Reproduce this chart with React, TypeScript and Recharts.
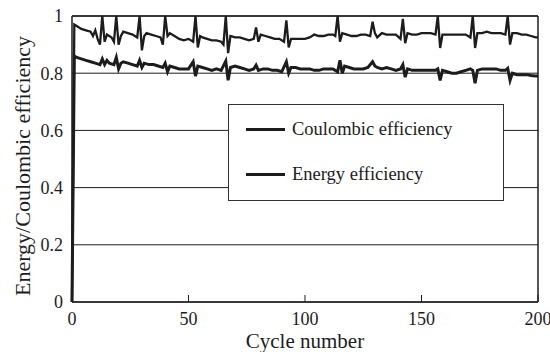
import React from 'react';
import { LineChart, Line, XAxis, YAxis, CartesianGrid, Legend, ReferenceLine } from 'recharts';

const ceCycles = [0, 1, 2, 4, 6, 8, 9, 10, 11, 12, 13, 14, 15, 16, 17, 18, 19, 20, 21, 22, 24, 26, 28, 29, 30, 31, 32, 34, 36, 38, 39, 40, 41, 42, 44, 46, 48, 50, 52, 53, 54, 55, 56, 58, 60, 62, 64, 65, 66, 67, 68, 70, 72, 74, 76, 78, 79, 80, 81, 83, 85, 87, 89, 91, 92, 93, 94, 96, 98, 100, 102, 104, 106, 108, 110, 112, 113, 114, 115, 116, 118, 120, 122, 124, 126, 128, 129, 130, 131, 133, 135, 137, 139, 141, 142, 143, 144, 146, 148, 150, 152, 154, 156, 157, 158, 159, 161, 163, 165, 167, 169, 171, 172, 173, 174, 176, 178, 180, 182, 184, 186, 187, 188, 189, 191, 193, 195, 197, 199, 200];
const ceValues = [0, 0.97, 0.965, 0.955, 0.95, 0.945, 0.93, 0.95, 0.92, 0.9, 1.0, 0.91, 0.935, 0.93, 0.925, 0.91, 1.0, 0.9, 0.93, 0.945, 0.94, 0.935, 0.925, 1.0, 0.88, 0.93, 0.94, 0.935, 0.93, 0.925, 0.9, 1.0, 0.93, 0.94, 0.93, 0.92, 0.915, 0.92, 0.91, 1.0, 0.89, 0.93, 0.925, 0.92, 0.915, 0.915, 0.91, 0.9, 1.0, 0.87, 0.93, 0.925, 0.925, 0.92, 0.915, 0.92, 0.96, 0.91, 0.935, 0.93, 0.925, 0.92, 0.92, 0.91, 0.985, 0.89, 0.92, 0.92, 0.92, 0.92, 0.925, 0.935, 0.93, 0.93, 0.935, 0.935, 0.93, 1.0, 0.91, 0.94, 0.935, 0.93, 0.93, 0.935, 0.935, 0.93, 0.98, 0.94, 0.925, 0.94, 0.935, 0.935, 0.935, 0.92, 0.99, 0.905, 0.94, 0.935, 0.935, 0.94, 0.94, 0.94, 0.935, 1.0, 0.888, 0.935, 0.935, 0.935, 0.935, 0.935, 0.935, 0.925, 1.0, 0.888, 0.94, 0.94, 0.945, 0.94, 0.94, 0.94, 0.935, 1.0, 0.9, 0.94, 0.94, 0.935, 0.935, 0.93, 0.925, 0.925];

const eeCycles = [0, 1, 2, 4, 6, 8, 10, 12, 13, 14, 15, 16, 18, 19, 20, 21, 22, 24, 26, 28, 29, 30, 31, 33, 35, 37, 39, 40, 41, 42, 44, 46, 48, 50, 52, 53, 54, 56, 58, 60, 62, 64, 66, 67, 68, 70, 72, 74, 76, 78, 79, 80, 82, 84, 86, 88, 90, 92, 93, 94, 96, 98, 100, 102, 104, 106, 108, 110, 112, 114, 115, 116, 117, 119, 121, 123, 125, 127, 129, 130, 131, 133, 135, 137, 139, 141, 142, 143, 144, 146, 148, 150, 152, 154, 156, 157, 158, 159, 161, 163, 165, 167, 169, 171, 172, 173, 174, 176, 178, 180, 182, 184, 186, 187, 188, 189, 191, 193, 195, 197, 199, 200];
const eeValues = [0, 0.86, 0.855, 0.85, 0.845, 0.84, 0.835, 0.83, 0.85, 0.83, 0.845, 0.835, 0.83, 0.855, 0.815, 0.835, 0.84, 0.835, 0.83, 0.825, 0.845, 0.82, 0.835, 0.83, 0.83, 0.825, 0.82, 0.835, 0.805, 0.825, 0.82, 0.815, 0.815, 0.815, 0.84, 0.79, 0.825, 0.82, 0.815, 0.81, 0.815, 0.81, 0.842, 0.775, 0.82, 0.825, 0.82, 0.815, 0.81, 0.815, 0.828, 0.81, 0.815, 0.815, 0.81, 0.81, 0.805, 0.84, 0.8, 0.82, 0.82, 0.815, 0.815, 0.815, 0.81, 0.81, 0.815, 0.815, 0.815, 0.805, 0.845, 0.8, 0.825, 0.82, 0.815, 0.815, 0.815, 0.82, 0.84, 0.825, 0.82, 0.815, 0.82, 0.815, 0.81, 0.815, 0.83, 0.786, 0.815, 0.81, 0.81, 0.81, 0.81, 0.81, 0.81, 0.815, 0.775, 0.81, 0.805, 0.8, 0.8, 0.805, 0.81, 0.815, 0.81, 0.765, 0.81, 0.815, 0.815, 0.815, 0.815, 0.81, 0.81, 0.817, 0.775, 0.8, 0.795, 0.795, 0.795, 0.792, 0.79, 0.79];

const xTicks = [0, 50, 100, 150, 200];
const yTicks = [0, 0.2, 0.4, 0.6, 0.8, 1];

const ceData = ceCycles.map((c, i) => ({ cycle: c, ce: ceValues[i] }));
const eeData = eeCycles.map((c, i) => ({ cycle: c, ee: eeValues[i] }));

const INK = '#1c1c1c';
const FONT = 'Liberation Serif, DejaVu Serif, serif';

const XTick = (props: any) => {
  const { x, y, payload } = props;
  return (
    <g>
      <line x1={x} y1={y} x2={x} y2={y - 7} stroke={INK} strokeWidth={1} />
      <text x={x} y={y + 23} textAnchor="middle" fontSize={18} fill={INK} style={{ fontFamily: FONT }}>
        {payload.value}
      </text>
    </g>
  );
};

const LegendBox = () => (
  <div
    style={{
      width: 276,
      height: 97,
      boxSizing: 'border-box',
      border: '1.5px solid #333',
      background: '#fff',
      fontFamily: FONT,
      fontSize: 18.5,
      color: INK,
      position: 'relative',
    }}
  >
    <div style={{ position: 'absolute', left: 17, top: 14, display: 'flex', alignItems: 'center' }}>
      <span style={{ display: 'inline-block', width: 39, height: 2.5, background: INK, marginRight: 7 }} />
      Coulombic efficiency
    </div>
    <div style={{ position: 'absolute', left: 17, top: 59, display: 'flex', alignItems: 'center' }}>
      <span style={{ display: 'inline-block', width: 39, height: 3.5, background: INK, marginRight: 7 }} />
      Energy efficiency
    </div>
  </div>
);

export default function App() {
  return (
    <div style={{ width: 550, height: 352, background: '#fff', fontFamily: FONT }}>
      <style>{`body{margin:0}`}</style>
      <LineChart width={550} height={352} margin={{ top: 16, right: 12, left: 0, bottom: 0 }} style={{ fontFamily: FONT }}>
        <CartesianGrid vertical={false} stroke={INK} strokeWidth={1} />
        <XAxis
          dataKey="cycle"
          type="number"
          domain={[0, 200]}
          ticks={xTicks}
          height={50}
          tickSize={0}
          tickMargin={0}
          tickLine={false}
          axisLine={{ stroke: INK, strokeWidth: 1.5 }}
          tick={<XTick />}
          allowDuplicatedCategory={false}
          label={{
            content: (p: any) => {
              const vb = p.viewBox;
              return (
                <text x={vb.x + vb.width / 2} y={vb.y + 46} textAnchor="middle" fontSize={21} fill={INK} style={{ fontFamily: FONT }}>
                  Cycle number
                </text>
              );
            },
          }}
        />
        <YAxis
          type="number"
          domain={[0, 1]}
          ticks={yTicks}
          width={72}
          tickSize={0}
          tickMargin={9}
          tickLine={false}
          axisLine={{ stroke: INK, strokeWidth: 1.5 }}
          tick={{ fontSize: 18, fill: INK, style: { fontFamily: FONT } }}
          tickFormatter={(v: number) => String(v)}
          label={{
            content: (p: any) => {
              const vb = p.viewBox;
              const cx = vb.x + 22;
              const cy = vb.y + vb.height / 2 + 7;
              return (
                <text x={cx} y={cy} transform={`rotate(-90 ${cx} ${cy})`} textAnchor="middle" dominantBaseline="central" fontSize={22} fill={INK} style={{ fontFamily: FONT }}>
                  Energy/Coulombic efficiency
                </text>
              );
            },
          }}
        />
        <ReferenceLine x={200} stroke={INK} strokeWidth={1.5} />
        <ReferenceLine y={1} stroke={INK} strokeWidth={1.5} />
        <Line data={ceData} dataKey="ce" type="linear" stroke={INK} strokeWidth={2.3} dot={false} isAnimationActive={false} />
        <Line data={eeData} dataKey="ee" type="linear" stroke={INK} strokeWidth={3} dot={false} isAnimationActive={false} />
        <Legend layout="vertical" align="center" verticalAlign="middle" wrapperStyle={{ left: 228, top: 104, width: 276, height: 97 }} content={<LegendBox />} />
      </LineChart>
    </div>
  );
}
